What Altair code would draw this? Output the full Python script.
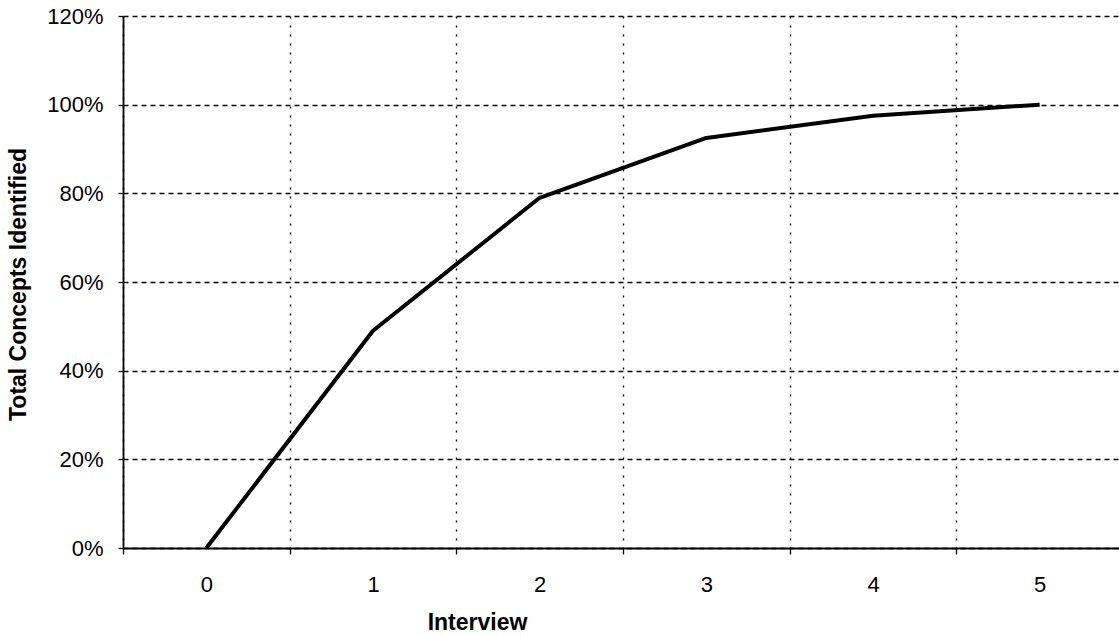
import altair as alt
import pandas as pd

interviews = ["0", "1", "2", "3", "4", "5"]
concepts = [0.0, 0.49, 0.79, 0.925, 0.975, 1.0]
y_ticks = [0, 0.2, 0.4, 0.6, 0.8, 1.0, 1.2]

df = pd.DataFrame({"Interview": interviews, "Concepts": concepts})

FONT = "Liberation Sans"

chart = alt.Chart(df).mark_line(
    color="black", strokeWidth=4, strokeJoin="round", strokeCap="butt"
).encode(
    x=alt.X(
        "Interview:O",
        sort=interviews,
        scale=alt.Scale(type="band", paddingInner=0, paddingOuter=0, range=[0, 1000]),
        axis=alt.Axis(
            title="Interview", labelAngle=0, tickBand="extent", grid=True,
            gridColor="black", gridDash=[2, 7], gridWidth=1.4, gridOpacity=1,
            domainColor="black", domainWidth=1.8, tickColor="black", tickSize=6, tickWidth=1.3,
            labelFont=FONT, labelFontSize=22, labelColor="black", labelPadding=20,
            titleFont=FONT, titleFontSize=23, titleFontWeight="bold", titleColor="black",
            titleX=354, titleY=81, titleAnchor="middle", titleAlign="center",
            titleBaseline="alphabetic",
        ),
    ),
    y=alt.Y(
        "Concepts:Q",
        scale=alt.Scale(domain=[0, 1.2], nice=False, zero=True),
        axis=alt.Axis(
            title="Total Concepts Identified", values=y_ticks, format=".0%", grid=True,
            gridColor="black", gridDash=[5, 4], gridWidth=1.4, gridOpacity=1,
            domainColor="black", domainWidth=1.8, tickColor="black", tickSize=5, tickWidth=1.3,
            labelFont=FONT, labelFontSize=22, labelColor="black", labelPadding=15,
            titleFont=FONT, titleFontSize=23, titleFontWeight="bold", titleColor="black",
            titleX=-98, titleY=268, titleBaseline="alphabetic",
        ),
    ),
).properties(
    width=996,
    height=532,
    autosize=alt.AutoSizeParams(type="none"),
    padding={"left": 123, "top": 16, "right": 0, "bottom": 86},
    background="white",
).configure_view(stroke=None)

chart.save("out.html", embed_options={"renderer": "svg", "actions": False})
